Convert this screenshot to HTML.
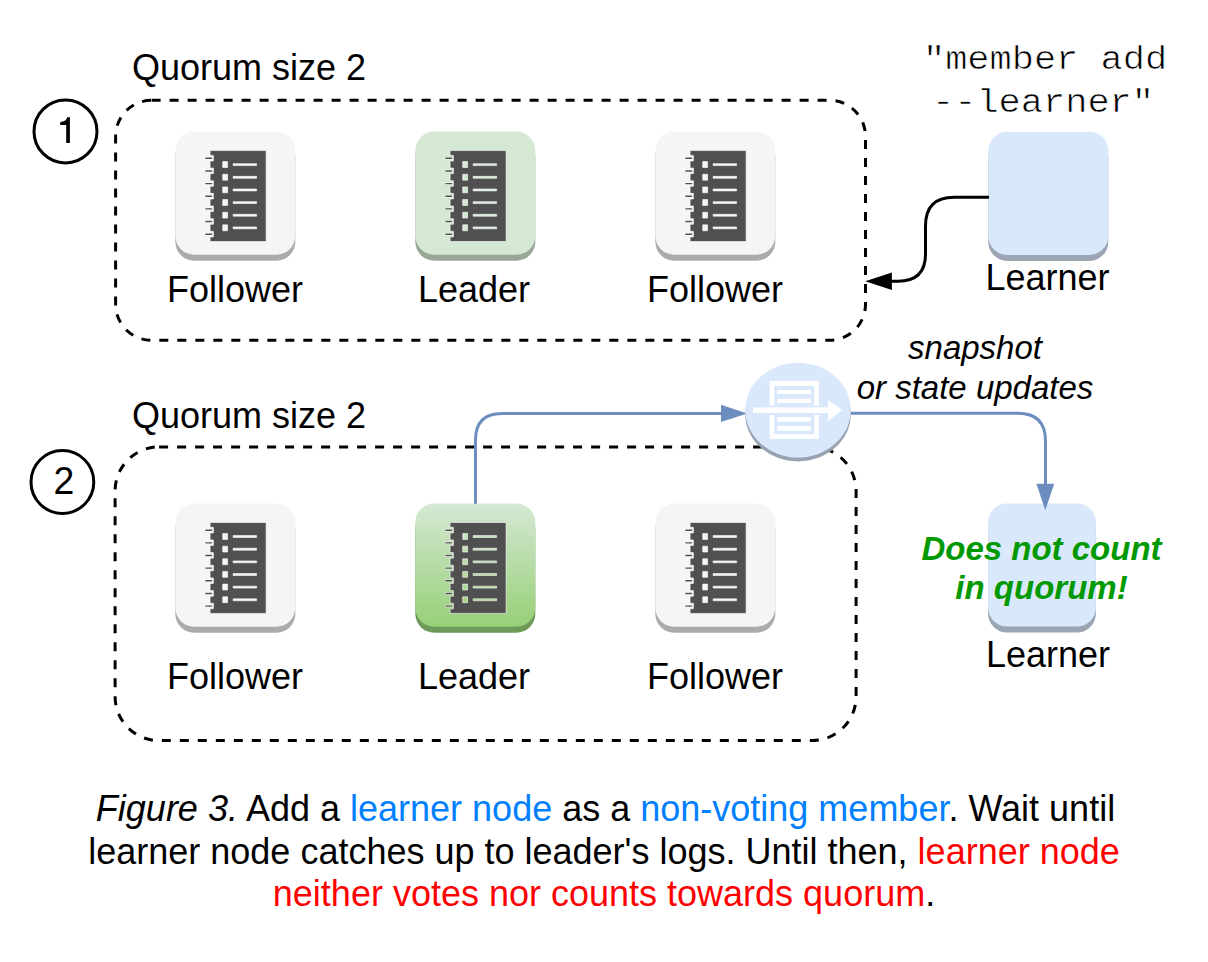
<!DOCTYPE html>
<html><head><meta charset="utf-8">
<style>
html,body{margin:0;padding:0;background:#fff;width:1208px;height:962px;overflow:hidden}
svg{display:block}
text{font-family:"Liberation Sans",sans-serif}
.mono{font-family:"Liberation Mono",monospace}
</style></head><body>
<svg width="1208" height="962" viewBox="0 0 1208 962">
<defs>
<path id="docp" d="M34.8,19.0 H90.8 V109.9 H34.8 V105.30 H38.1 V99.70 H34.8 V92.65 H38.1 V87.05 H34.8 V80.00 H38.1 V74.40 H34.8 V67.35 H38.1 V61.75 H34.8 V54.70 H38.1 V49.10 H34.8 V42.05 H38.1 V36.45 H34.8 V29.40 H38.1 V23.80 H34.8 Z M47.4,30.00 H52.3 V35.90 H47.4 Z M57.8,32.10 H81.3 V34.00 H57.8 Z M47.4,42.65 H52.3 V48.55 H47.4 Z M57.8,44.75 H81.3 V46.65 H57.8 Z M47.4,55.30 H52.3 V61.20 H47.4 Z M57.8,57.40 H81.3 V59.30 H57.8 Z M47.4,67.95 H52.3 V73.85 H47.4 Z M57.8,70.05 H81.3 V71.95 H57.8 Z M47.4,80.60 H52.3 V86.50 H47.4 Z M57.8,82.70 H81.3 V84.60 H57.8 Z M47.4,93.25 H52.3 V99.15 H47.4 Z M57.8,95.35 H81.3 V97.25 H57.8 Z"/>
<path id="dashp" d="M30.1,26.00 H36.8 V27.40 H30.1 Z M30.1,38.65 H36.8 V40.05 H30.1 Z M30.1,51.30 H36.8 V52.70 H30.1 Z M30.1,63.95 H36.8 V65.35 H30.1 Z M30.1,76.60 H36.8 V78.00 H30.1 Z M30.1,89.25 H36.8 V90.65 H30.1 Z M30.1,101.90 H36.8 V103.30 H30.1 Z"/>
<g id="doc">
  <use href="#dashp" fill="#ffffff" fill-opacity="0.6" stroke="#ffffff" stroke-opacity="0.6" stroke-width="1.4"/>
  <use href="#docp" fill="#505050" fill-rule="evenodd" stroke="#ffffff" stroke-opacity="0.6" stroke-width="1"/>
  <use href="#dashp" fill="#505050"/>
</g>
<linearGradient id="lg2" x1="0" y1="0" x2="0" y2="1">
  <stop offset="0" stop-color="#d5e8d4"/>
  <stop offset="1" stop-color="#97d077"/>
</linearGradient>
</defs>

<!-- Panel 1 -->
<text x="132" y="80" font-size="36">Quorum size 2</text>
<circle cx="65.5" cy="131.4" r="31.5" fill="none" stroke="#000" stroke-width="3"/>
<path d="M66.2,142.9 V124.9 H60.2 V121.9 Q63.5,121.9 65.2,120.5 Q66.8,119 67.2,117.2 H69.9 V142.9 Z" fill="#000"/>
<rect x="115.6" y="100.3" width="749.9" height="240" rx="36" ry="36" fill="none" stroke="#000" stroke-width="3" stroke-dasharray="9 9"/>

<g transform="translate(175.3,131.6)">
  <rect x="0" y="6" width="120" height="123.2" rx="19" fill="#ababab"/>
  <rect x="0" y="0" width="120" height="123.2" rx="19" fill="#f5f5f5"/>
  <use href="#doc"/>
</g>
<g transform="translate(415.3,131.6)">
  <rect x="0" y="6" width="120" height="123.2" rx="19" fill="#99a798"/>
  <rect x="0" y="0" width="120" height="123.2" rx="19" fill="#d5e8d4"/>
  <use href="#doc"/>
</g>
<g transform="translate(655.3,131.6)">
  <rect x="0" y="6" width="120" height="123.2" rx="19" fill="#ababab"/>
  <rect x="0" y="0" width="120" height="123.2" rx="19" fill="#f5f5f5"/>
  <use href="#doc"/>
</g>
<text x="235" y="302" font-size="36" text-anchor="middle">Follower</text>
<text x="474" y="302" font-size="36" text-anchor="middle">Leader</text>
<text x="715" y="302" font-size="36" text-anchor="middle">Follower</text>

<!-- learner 1 -->
<g transform="translate(988.3,131.7)">
  <rect x="0" y="6" width="120" height="123.2" rx="19" fill="#9ba5b3"/>
  <rect x="0" y="0" width="120" height="123.2" rx="19" fill="#dae8fc"/>
</g>
<text x="1047.5" y="290" font-size="36" text-anchor="middle">Learner</text>
<text class="mono" stroke="#fff" stroke-width="0.7" transform="translate(1045,68.9) scale(1,0.91)" font-size="37" text-anchor="middle">"member add</text>
<text class="mono" stroke="#fff" stroke-width="0.7" transform="translate(1043,111.9) scale(1,0.91)" font-size="37" text-anchor="middle">--learner"</text>

<path d="M989,197.2 H954 Q925.5,197.2 925.5,226 V254 Q925.5,281.2 898,281.2 H889" fill="none" stroke="#000" stroke-width="3"/>
<polygon points="865.2,281.2 891.9,272.5 891.9,289.9" fill="#000"/>

<!-- Panel 2 -->
<text x="132" y="428.3" font-size="36">Quorum size 2</text>
<circle cx="62.4" cy="482" r="31.4" fill="none" stroke="#000" stroke-width="3"/>
<text transform="translate(64,494) scale(1.04,1.06)" font-size="36" text-anchor="middle">2</text>
<rect x="115.1" y="446.9" width="741" height="293.7" rx="44" ry="44" fill="none" stroke="#000" stroke-width="3" stroke-dasharray="9 9"/>

<g transform="translate(175.3,503.5)">
  <rect x="0" y="6" width="120" height="123.2" rx="19" fill="#ababab"/>
  <rect x="0" y="0" width="120" height="123.2" rx="19" fill="#f5f5f5"/>
  <use href="#doc"/>
</g>
<g transform="translate(415.3,503.5)">
  <rect x="0" y="6" width="120" height="123.2" rx="19" fill="#6d9a58"/>
  <rect x="0" y="0" width="120" height="123.2" rx="19" fill="url(#lg2)"/>
  <use href="#doc"/>
</g>
<g transform="translate(655.3,503.5)">
  <rect x="0" y="6" width="120" height="123.2" rx="19" fill="#ababab"/>
  <rect x="0" y="0" width="120" height="123.2" rx="19" fill="#f5f5f5"/>
  <use href="#doc"/>
</g>
<text x="235" y="689" font-size="36" text-anchor="middle">Follower</text>
<text x="474" y="689" font-size="36" text-anchor="middle">Leader</text>
<text x="715" y="689" font-size="36" text-anchor="middle">Follower</text>

<!-- blue connectors -->
<path d="M475.5,503.7 V440 Q475.5,413.5 502,413.5 H723" fill="none" stroke="#6c8ebf" stroke-width="3"/>
<polygon points="747.3,413.4 721,404.8 721,422.1" fill="#6c8ebf"/>
<path d="M850.5,413.2 H1018 Q1045.5,413.2 1045.5,441 V486" fill="none" stroke="#6c8ebf" stroke-width="3"/>

<!-- replication circle -->
<ellipse cx="798" cy="414.2" rx="52.8" ry="47.2" fill="#98a2b0"/>
<ellipse cx="798" cy="410.1" rx="52.8" ry="47.4" fill="#dae8fc"/>
<g fill="#ffffff">
  <path d="M769.7,405.5 V380.9 H818.8 V405.5 H814.2 V385.9 H774.3 V405.5 Z"/>
  <rect x="777.4" y="389.9" width="33.7" height="4"/>
  <rect x="777.4" y="398.9" width="33.7" height="4.1"/>
  <rect x="753.1" y="407.4" width="76" height="5.6"/>
  <polygon points="828,399.9 842.3,410.1 828,421.1"/>
  <path d="M769.7,414.9 V438.8 H818.8 V414.9 H814.2 V434.2 H774.3 V414.9 Z"/>
  <rect x="777.4" y="417" width="33.7" height="4.5"/>
  <rect x="777.4" y="426.1" width="33.7" height="4.6"/>
</g>

<text x="975" y="358.7" font-size="33" font-style="italic" text-anchor="middle">snapshot</text>
<text x="975" y="398.5" font-size="33" font-style="italic" text-anchor="middle">or state updates</text>

<!-- learner 2 -->
<g transform="translate(988.1,503.4)">
  <rect x="0" y="6" width="107.8" height="123.2" rx="19" fill="#9ba5b3"/>
  <rect x="0" y="0" width="107.8" height="123.2" rx="19" fill="#dae8fc"/>
</g>
<polygon points="1045.3,510.3 1036.4,483.8 1054.2,483.8" fill="#6c8ebf"/>
<text x="1041.5" y="559.9" font-size="33" font-weight="bold" font-style="italic" fill="#009900" text-anchor="middle">Does not count</text>
<text x="1041.5" y="599.3" font-size="33" font-weight="bold" font-style="italic" fill="#009900" text-anchor="middle">in quorum!</text>
<text x="1048" y="667.3" font-size="36" text-anchor="middle">Learner</text>

<!-- caption -->
<text x="605.5" y="821.2" font-size="36" text-anchor="middle"><tspan font-style="italic">Figure 3.</tspan> Add a <tspan fill="#007fff">learner node</tspan> as a <tspan fill="#007fff">non-voting member</tspan>. Wait until</text>
<text x="604" y="863.6" font-size="36" text-anchor="middle">learner node catches up to leader's logs. Until then, <tspan fill="#ff0000">learner node</tspan></text>
<text x="604" y="906" font-size="36" text-anchor="middle"><tspan fill="#ff0000">neither votes nor counts towards quorum</tspan>.</text>
</svg>
</body></html>
